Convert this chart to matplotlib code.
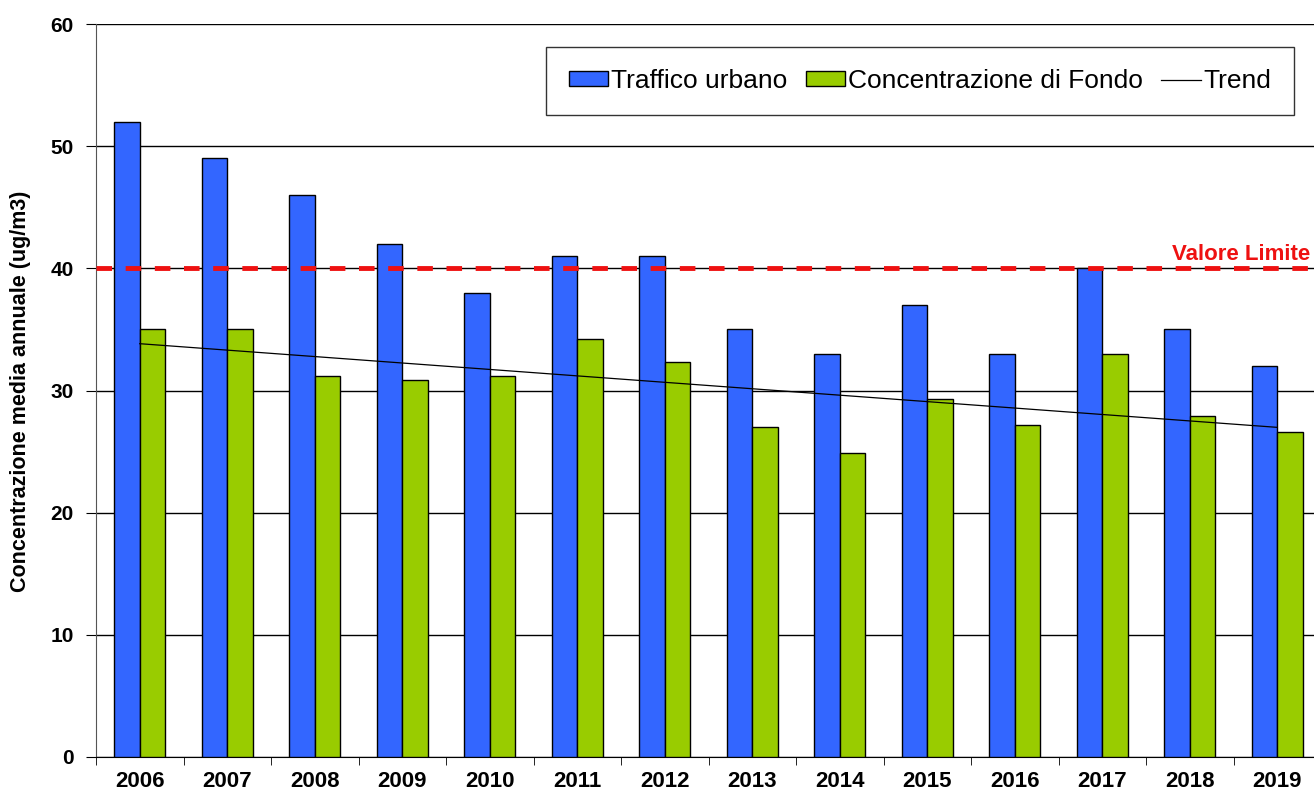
import numpy as np
import matplotlib
matplotlib.use("Agg")
import matplotlib.pyplot as plt

# Dati
anni = ["2006", "2007", "2008", "2009", "2010", "2011", "2012",
        "2013", "2014", "2015", "2016", "2017", "2018", "2019"]
traffico_urbano = [52, 49, 46, 42, 38, 41, 41, 35, 33, 37, 33, 40, 35, 32]
fondo = [35, 35, 31.2, 30.9, 31.2, 34.2, 32.3, 27.0, 24.9, 29.3, 27.2, 33, 27.9, 26.6]
valore_limite = 40

plt.rcParams['font.family'] = ['Liberation Sans', 'DejaVu Sans']

fig = plt.figure(figsize=(13.14, 7.94), dpi=100)
ax = fig.add_axes([96 / 1314, 1 - 757 / 794, (1321 - 96) / 1314, (757 - 24) / 794])

x = np.arange(len(anni))
w = 0.29
b1 = ax.bar(x - w / 2, traffico_urbano, w, color='#3366FF', edgecolor='black',
            linewidth=1, label='Traffico urbano', zorder=3)
b2 = ax.bar(x + w / 2, fondo, w, color='#99CC00', edgecolor='black',
            linewidth=1, label='Concentrazione di Fondo', zorder=3)

# Trend lineare della concentrazione di fondo
coef = np.polyfit(x, fondo, 1)
l1, = ax.plot(x, np.polyval(coef, x), color='black', linewidth=0.9, label='Trend', zorder=4)

# Valore limite
ax.axhline(valore_limite, color='#EE1111', linewidth=3.5, linestyle=(0, (3.2, 2.8)), zorder=5)
fig.text(1310 / 1314, 1 - 254 / 794, 'Valore Limite', color='#EE1111',
         fontsize=16, fontweight='bold', ha='right', va='center')

ax.set_ylim(0, 60)
ax.set_xlim(-0.5, len(anni) - 0.5)
ax.set_yticks(range(0, 61, 10))
ax.yaxis.grid(True, color='black', linewidth=1, zorder=0)
ax.set_axisbelow(True)

ax.set_xticks(x)
ax.set_xticklabels(anni, fontsize=16, fontweight='bold')
ax.set_xticks(np.arange(-0.5, len(anni), 1), minor=True)
ax.tick_params(axis='x', which='major', length=0, pad=10)
ax.tick_params(axis='x', which='minor', length=6, color='black')
ax.tick_params(axis='y', labelsize=15, length=7, pad=9, color='black')
for lab in ax.get_yticklabels():
    lab.set_fontweight('bold')

ax.spines['top'].set_visible(False)
ax.spines['right'].set_visible(False)
ax.spines['left'].set_color('#555555')
ax.spines['bottom'].set_color('black')

ax.set_ylabel('Concentrazione media annuale (ug/m3)', fontsize=15.5, fontweight='bold')
ax.yaxis.set_label_coords(31 / 1314, 1 - 391 / 794, transform=fig.transFigure)

leg = fig.legend([b1, b2, l1], ['Traffico urbano', 'Concentrazione di Fondo', 'Trend'],
                 loc='center', bbox_to_anchor=((552 + 1288) / 2 / 1314, 1 - 81 / 794),
                 ncol=3, fontsize=19, frameon=True, fancybox=False, edgecolor='black',
                 handlelength=1.5, handleheight=0.5, handletextpad=0.1, columnspacing=0.7,
                 borderpad=0.85, borderaxespad=0)
leg.get_frame().set_linewidth(1)

fig.savefig('out.png', dpi=100)
